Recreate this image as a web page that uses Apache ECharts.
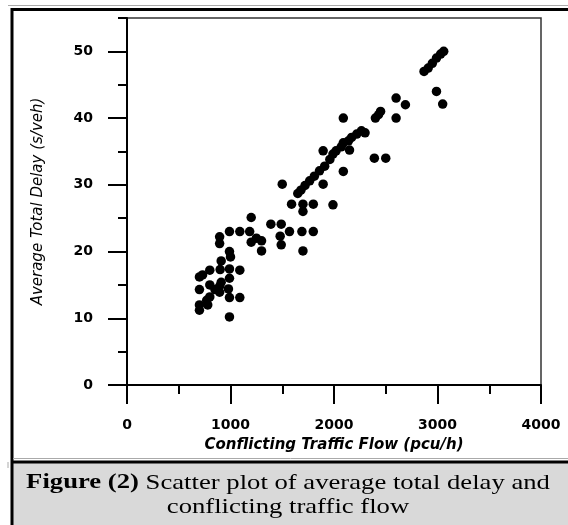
<!DOCTYPE html>
<html>
<head>
<meta charset="utf-8">
<script src="https://cdn.jsdelivr.net/npm/echarts@6/dist/echarts.min.js"></script>
<style>
html,body{margin:0;padding:0;background:#fff;}
#chart{width:568px;height:525px;}
</style>
</head>
<body>
<div id="chart"></div>
<script>
// Conflicting traffic flow (pcu/h)
const flow = [
  700, 700, 700, 700, 730, 780, 800, 800, 800, 770, 850, 895, 895, 900, 910, 910, 895, 895,
  990, 990, 990, 980, 990, 990, 1000, 1090, 1090, 990, 1090, 1185, 1200, 1200, 1250, 1300, 1300,
  1390, 1490, 1480, 1490, 1500, 1590, 1570, 1690, 1800, 1700, 1700, 1800, 1700, 1990, 1650,
  1680, 1720, 1765, 1810, 1860, 1910, 1895, 1895, 1960, 1990, 2020, 2070, 2090, 2140, 2150,
  2170, 2220, 2265, 2300, 2090, 2090, 2390, 2500, 2400, 2430, 2450, 2600, 2690, 2600,
  2870, 2910, 2950, 2990, 3030, 3060, 2990, 3050
];
// Average total delay (s/veh)
const delay = [
  16.2, 14.3, 12.0, 11.2, 16.5, 12.0, 17.2, 15.0, 13.2, 12.7, 14.3, 22.2, 21.2, 17.3, 18.6, 15.4, 13.9, 14.8,
  20.0, 17.4, 16.0, 14.4, 13.1, 10.2, 19.2, 17.2, 13.1, 23.0, 23.0, 23.0, 25.1, 21.4, 22.0, 21.6, 20.1,
  24.1, 24.1, 22.3, 21.0, 30.1, 27.1, 23.0, 23.0, 23.0, 20.1, 27.1, 27.1, 26.0, 27.0, 28.7,
  29.2, 29.9, 30.6, 31.3, 32.1, 32.8, 35.1, 30.1, 33.8, 34.6, 35.1, 35.7, 36.3, 36.6, 35.2,
  37.1, 37.6, 38.1, 37.8, 40.0, 32.0, 34.0, 34.0, 40.0, 40.5, 41.0, 43.0, 42.0, 40.0,
  47.0, 47.5, 48.2, 49.0, 49.6, 50.0, 44.0, 42.1
];
const xMajorTicks = [0, 1000, 2000, 3000, 4000];
const yMajorTicks = [0, 10, 20, 30, 40, 50];
const xTitle = 'Conflicting Traffic Flow (pcu/h)';
const yTitle = 'Average Total Delay (s/veh)';
const captionBold = 'Figure (2)';
const captionLine1 = ' Scatter plot of average total delay and';
const captionLine2 = 'conflicting traffic flow';

const points = flow.map((f, i) => [f, delay[i]]);

const chart = echarts.init(document.getElementById('chart'), null, {renderer: 'canvas'});
const labelFont = {fontFamily: 'DejaVu Sans', fontSize: 14, fontWeight: 'bold', color: '#000', formatter: v => String(v)};

chart.setOption({
  animation: false,
  backgroundColor: '#fff',
  grid: {left: 127, right: 27, top: 18, bottom: 140, show: true, borderColor: '#333', borderWidth: 1.5, backgroundColor: 'transparent'},
  xAxis: [{
    type: 'value', min: 0, max: 4000, interval: 1000, position: 'bottom',
    axisLine: {show: true, onZero: false, lineStyle: {color: '#000', width: 2}},
    axisTick: {show: true, length: 19, lineStyle: {color: '#000', width: 2}},
    minorTick: {show: true, splitNumber: 2, length: 9, lineStyle: {color: '#000', width: 2}},
    axisLabel: Object.assign({margin: 33, customValues: xMajorTicks}, labelFont),
    splitLine: {show: false},
    name: xTitle, nameLocation: 'middle', nameGap: 53,
    nameTextStyle: {fontFamily: 'DejaVu Sans', fontSize: 15, fontWeight: 'bold', fontStyle: 'italic', color: '#000'}
  }],
  yAxis: [{
    type: 'value', min: 0, max: 55, interval: 5, position: 'left',
    axisLine: {show: true, onZero: false, lineStyle: {color: '#000', width: 2}},
    axisTick: {show: true, length: 9, lineStyle: {color: '#000', width: 2}},
    axisLabel: Object.assign({margin: 34, customValues: yMajorTicks}, labelFont),
    splitLine: {show: false},
    name: yTitle, nameLocation: 'middle', nameGap: 81,
    nameTextStyle: {fontFamily: 'DejaVu Sans', fontSize: 15, fontStyle: 'italic', color: '#000'}
  }, {
    type: 'value', min: 0, max: 55, interval: 5, position: 'left',
    axisLine: {show: false},
    axisTick: {show: true, length: 19, customValues: yMajorTicks, lineStyle: {color: '#000', width: 2}},
    axisLabel: {show: false},
    splitLine: {show: false}
  }],
  series: [{
    type: 'scatter', xAxisIndex: 0, yAxisIndex: 0,
    symbol: 'circle', symbolSize: 9.5,
    itemStyle: {color: '#000', opacity: 1},
    emphasis: {disabled: true},
    data: points
  }],
  graphic: [
    {type: 'rect', z: -10, shape: {x: 13, y: 463, width: 555, height: 62}, style: {fill: '#d9d9d9'}},
    {type: 'line', shape: {x1: 8, y1: 5.5, x2: 568, y2: 5.5}, style: {stroke: '#aaa', lineWidth: 1}},
    {type: 'line', shape: {x1: 11, y1: 9.5, x2: 568, y2: 9.5}, style: {stroke: '#000', lineWidth: 3}},
    {type: 'line', shape: {x1: 12, y1: 8, x2: 12, y2: 525}, style: {stroke: '#000', lineWidth: 3}},
    {type: 'line', shape: {x1: 13, y1: 458.5, x2: 568, y2: 458.5}, style: {stroke: '#aaa', lineWidth: 1}},
    {type: 'line', shape: {x1: 13, y1: 462, x2: 568, y2: 462}, style: {stroke: '#000', lineWidth: 3}},
    {type: 'line', shape: {x1: 8, y1: 462, x2: 8, y2: 468}, style: {stroke: '#aaa', lineWidth: 1}},
    {
      type: 'text', x: 288, y: 471, scaleX: 1.27, z: 10,
      style: {
        text: '{b|' + captionBold + '}{n|' + captionLine1 + '}\n{n|' + captionLine2 + '}',
        align: 'center', verticalAlign: 'top',
        rich: {
          b: {fontFamily: 'Liberation Serif', fontSize: 21, fontWeight: 'bold', fill: '#000', lineHeight: 24},
          n: {fontFamily: 'Liberation Serif', fontSize: 21, fontWeight: 'normal', fill: '#000', lineHeight: 24}
        }
      }
    }
  ]
});
</script>
</body>
</html>
